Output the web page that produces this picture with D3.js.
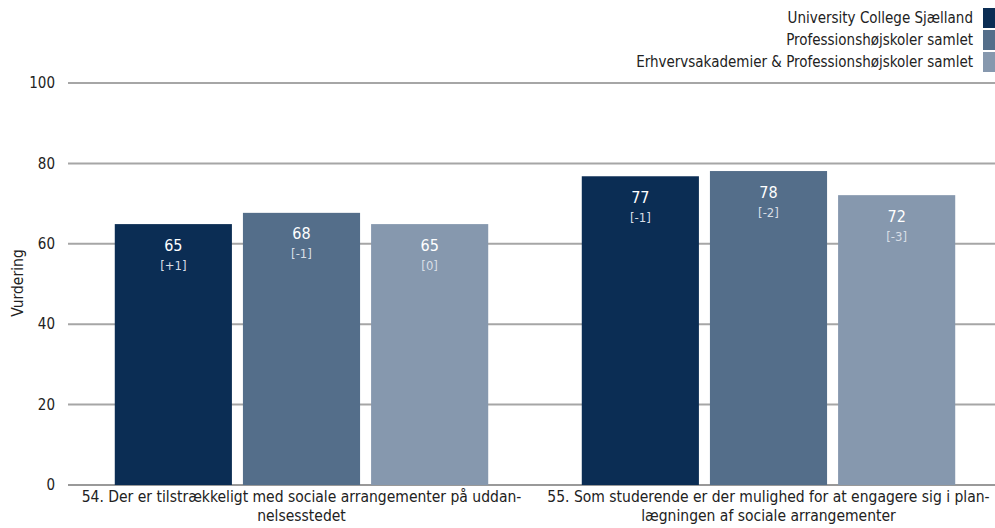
<!DOCTYPE html>
<html>
<head>
<meta charset="utf-8">
<script src="https://cdn.jsdelivr.net/npm/d3@7"></script>
<style>
  html, body { margin: 0; padding: 0; background: #fff; }
  svg { display: block; font-family: "DejaVu Sans Condensed", "DejaVu Sans", sans-serif; }
  .grid line { stroke: #a6a6a6; stroke-width: 2; }
  .grid .zero line { stroke: #999; }
</style>
</head>
<body>
<svg width="995" height="528"></svg>
<script>
// questions on the x axis (already broken into lines as in the original)
var questions = ["q54", "q55"]
var questionLines = [
  ["54. Der er tilstrækkeligt med sociale arrangementer på uddan-", "nelsesstedet"],
  ["55. Som studerende er der mulighed for at engagere sig i plan-", "lægningen af sociale arrangementer"]
]

var seriesNames = [
  "University College Sjælland",
  "Professionshøjskoler samlet",
  "Erhvervsakademier & Professionshøjskoler samlet"
]
var seriesColors = ["#0b2d54", "#546e8a", "#8698ae"]

// ratings per series, one value per question
var ucsj = [64.9, 76.8]
var phSamlet = [67.7, 78.1]
var eaPhSamlet = [64.9, 72.1]
// change vs. last measurement
var ucsjDelta = ["[+1]", "[-1]"]
var phDelta = ["[-1]", "[-2]"]
var eaPhDelta = ["[0]", "[-3]"]

var yTicks = [0, 20, 40, 60, 80, 100]

var values = [ucsj, phSamlet, eaPhSamlet]
var deltas = [ucsjDelta, phDelta, eaPhDelta]

var svg = d3.select("svg"),
    width = +svg.attr("width"),
    height = +svg.attr("height")

var plotLeft = 68, plotRight = 1002, plotTop = 83, plotBottom = 485

var y = d3.scaleLinear()
    .domain([0, 100])
    .range([plotBottom, plotTop])

var x0 = d3.scaleBand()
    .domain(questions)
    .range([plotLeft, plotRight])

var x1 = d3.scaleBand()
    .domain(d3.range(seriesNames.length))
    .range([0, x0.bandwidth()])
    .paddingInner(0.086)
    .paddingOuter(0.365)

// gridlines
var grid = svg.append("g")
    .attr("class", "grid")
    .selectAll("g")
    .data(yTicks)
    .enter().append("g")
    .attr("class", d => d === 0 ? "zero" : null)
    .attr("transform", d => "translate(0," + y(d) + ")")

grid.append("line")
    .attr("x1", plotLeft)
    .attr("x2", width)

grid.append("text")
    .attr("x", 55)
    .attr("dy", "0.35em")
    .attr("text-anchor", "end")
    .attr("font-size", 15)
    .attr("fill", "#222")
    .text(d => d)

// axis title
svg.append("text")
    .attr("transform", "translate(23,283) rotate(-90)")
    .attr("text-anchor", "middle")
    .attr("font-size", 15.5)
    .attr("fill", "#222")
    .text("Vurdering")

// bars
var rows = []
questions.forEach(function(q, qi) {
  values.forEach(function(s, si) {
    rows.push({ q: q, qi: qi, si: si, v: s[qi], delta: deltas[si][qi] })
  })
})

var bar = svg.append("g")
    .selectAll("g")
    .data(rows)
    .enter().append("g")
    .attr("transform", d => "translate(" + (x0(d.q) + x1(d.si)) + ",0)")

bar.append("rect")
    .attr("y", d => y(d.v))
    .attr("width", x1.bandwidth())
    .attr("height", d => y(0) - y(d.v))
    .attr("fill", d => seriesColors[d.si])

bar.append("text")
    .attr("x", x1.bandwidth() / 2)
    .attr("y", d => y(d.v) + 21)
    .attr("dy", "0.35em")
    .attr("text-anchor", "middle")
    .attr("font-size", 16)
    .attr("fill", "#fff")
    .text(d => Math.round(d.v))

bar.append("text")
    .attr("x", x1.bandwidth() / 2)
    .attr("y", d => y(d.v) + 41)
    .attr("dy", "0.35em")
    .attr("text-anchor", "middle")
    .attr("font-size", 13)
    .attr("fill", "#d8dee6")
    .text(d => d.delta)

// category labels
var cat = svg.append("g")
    .selectAll("text")
    .data(questions)
    .enter().append("text")
    .attr("text-anchor", "middle")
    .attr("font-size", 15.5)
    .attr("fill", "#222")

cat.selectAll("tspan")
    .data((d, i) => questionLines[i].map(t => ({ t: t, x: x0(d) + x0.bandwidth() / 2 })))
    .enter().append("tspan")
    .attr("x", d => d.x)
    .attr("y", (d, i) => 502 + i * 19)
    .text(d => d.t)

// legend
var legend = svg.append("g")
    .selectAll("g")
    .data(seriesNames)
    .enter().append("g")
    .attr("transform", (d, i) => "translate(0," + (8 + i * 22) + ")")

legend.append("rect")
    .attr("x", 983)
    .attr("width", 14)
    .attr("height", 20)
    .attr("fill", (d, i) => seriesColors[i])

legend.append("text")
    .attr("x", 973)
    .attr("y", 10)
    .attr("dy", "0.35em")
    .attr("text-anchor", "end")
    .attr("font-size", 15)
    .attr("fill", "#222")
    .text(d => d)
</script>
</body>
</html>
